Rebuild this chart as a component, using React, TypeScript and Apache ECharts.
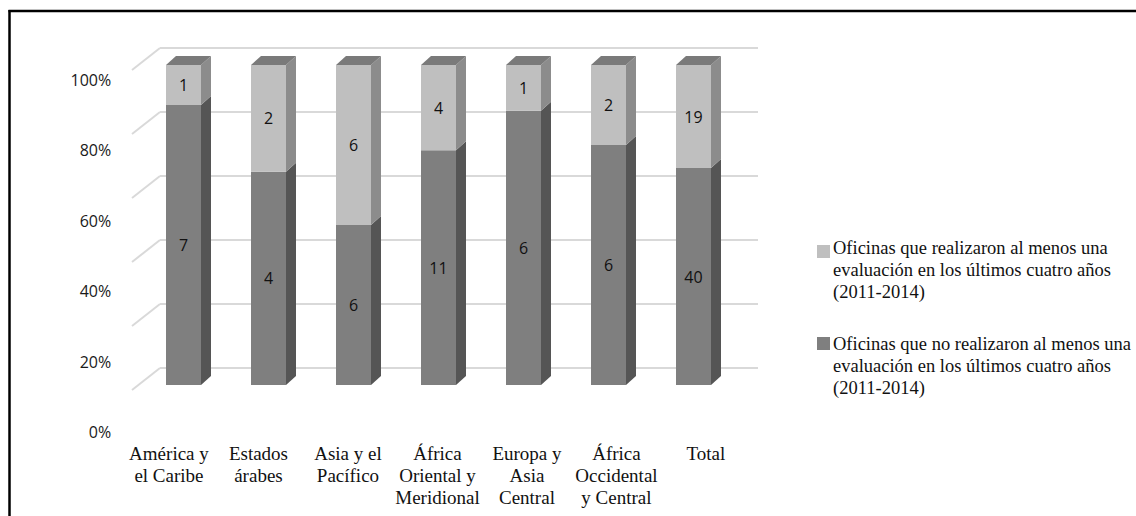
import React, { useEffect, useRef } from "react";
import * as echarts from "echarts";

// Regions and office counts
const categories = [
  "América y\nel Caribe",
  "Estados\nárabes",
  "Asia y el\nPacífico",
  "África\nOriental y\nMeridional",
  "Europa y\nAsia\nCentral",
  "África\nOccidental\ny Central",
  "Total",
];
const realizaron = [1, 2, 6, 4, 1, 2, 19];
const noRealizaron = [7, 4, 6, 11, 6, 6, 40];
const pctTicks = [0, 20, 40, 60, 80, 100];

const legendRealizaron =
  "Oficinas que realizaron al menos una\nevaluación en los últimos cuatro años\n(2011-2014)";
const legendNoRealizaron =
  "Oficinas que no realizaron al menos una\nevaluación en los últimos cuatro años\n(2011-2014)";

// 3D box look
const DX = 10;
const DY = 9;
const BAR_RATIO = 35 / 85;
const LIGHT = { front: "#bfbfbf", side: "#8c8c8c", top: "#7a7a7a" };
const DARK = { front: "#7f7f7f", side: "#555555", top: "#6a6a6a" };
const GRID_LINE = "#d9d9d9";
const SANS = "'Open Sans', 'DejaVu Sans', sans-serif";
const SERIF = "'Liberation Serif', 'DejaVu Serif', serif";

function makeBoxRenderer(colors: { front: string; side: string; top: string }) {
  return (_params: any, api: any) => {
    const cat = api.value(0);
    const lo = api.value(1);
    const hi = api.value(2);
    const count = api.value(3);
    const isTop = api.value(4) === 1;
    const pLo = api.coord([cat, lo]);
    const pHi = api.coord([cat, hi]);
    const cx = pLo[0];
    const yLo = pLo[1];
    const yHi = pHi[1];
    const w = api.size([1, 0])[0] * BAR_RATIO;
    const x0 = cx - w / 2;
    const x1 = cx + w / 2;
    const children: any[] = [
      {
        type: "polygon",
        shape: {
          points: [
            [x1, yHi],
            [x1 + DX, yHi - DY],
            [x1 + DX, yLo - DY],
            [x1, yLo],
          ],
        },
        style: { fill: colors.side },
      },
      {
        type: "rect",
        shape: { x: x0, y: yHi, width: w, height: yLo - yHi },
        style: { fill: colors.front },
      },
    ];
    if (isTop) {
      children.push({
        type: "polygon",
        shape: {
          points: [
            [x0, yHi],
            [x0 + DX, yHi - DY],
            [x1 + DX, yHi - DY],
            [x1, yHi],
          ],
        },
        style: { fill: colors.top },
      });
    }
    children.push({
      type: "text",
      style: {
        text: String(count),
        x: cx,
        y: (yLo + yHi) / 2,
        align: "center",
        verticalAlign: "middle",
        fontFamily: SANS,
        fontSize: 16,
        fill: "#111111",
      },
    });
    return { type: "group", children };
  };
}

export default function App() {
  const ref = useRef<HTMLDivElement>(null);

  useEffect(() => {
    if (!ref.current) return;
    const chart = echarts.init(ref.current, null, { renderer: "svg" });

    const totals = categories.map((_, i) => realizaron[i] + noRealizaron[i]);
    const darkData = categories.map((_, i) => [
      i,
      0,
      (noRealizaron[i] / totals[i]) * 100,
      noRealizaron[i],
      0,
    ]);
    const lightData = categories.map((_, i) => [
      i,
      (noRealizaron[i] / totals[i]) * 100,
      100,
      realizaron[i],
      1,
    ]);

    chart.setOption({
      animation: false,
      backgroundColor: "#ffffff",
      grid: [
        // bars
        { left: 141, right: 400, top: 65, bottom: 131 },
        // back wall
        { left: 160, right: 378, top: 48, bottom: 148 },
        // axis labels
        { left: 124.2, right: 385.3, top: 80, bottom: 84 },
      ],
      xAxis: [
        {
          gridIndex: 0,
          type: "category",
          data: categories,
          show: false,
        },
        { gridIndex: 1, type: "value", min: 0, max: 1, show: false },
        {
          gridIndex: 2,
          type: "category",
          data: categories,
          axisLine: { show: false },
          axisTick: { show: false },
          axisLabel: {
            interval: 0,
            margin: 10,
            fontFamily: SERIF,
            fontSize: 19,
            lineHeight: 22,
            color: "#111111",
          },
        },
      ],
      yAxis: [
        { gridIndex: 0, type: "value", min: 0, max: 100, show: false },
        {
          gridIndex: 1,
          type: "value",
          min: 0,
          max: 100,
          interval: 20,
          axisLine: { show: false },
          axisTick: { show: false },
          axisLabel: { show: false },
          splitLine: { show: true, lineStyle: { color: GRID_LINE, width: 2 } },
        },
        {
          gridIndex: 2,
          type: "value",
          min: 0,
          max: 100,
          interval: 20,
          axisLine: { show: false },
          axisTick: { show: false },
          splitLine: { show: false },
          axisLabel: {
            margin: 13,
            formatter: "{value}%",
            fontFamily: SANS,
            fontSize: 16,
            color: "#1a1a1a",
          },
        },
      ],
      series: [
        {
          // side wall lines running back to the wall
          type: "custom",
          xAxisIndex: 1,
          yAxisIndex: 1,
          silent: true,
          data: pctTicks.map((v) => [0, v]),
          renderItem: (_params: any, api: any) => {
            const p = api.coord([0, api.value(1)]);
            return {
              type: "line",
              shape: { x1: p[0] - 28, y1: p[1] + 22, x2: p[0], y2: p[1] },
              style: { stroke: GRID_LINE, lineWidth: 2 },
            };
          },
        },
        {
          name: legendNoRealizaron,
          type: "custom",
          xAxisIndex: 0,
          yAxisIndex: 0,
          data: darkData,
          encode: { x: 0, y: [1, 2] },
          renderItem: makeBoxRenderer(DARK),
        },
        {
          name: legendRealizaron,
          type: "custom",
          xAxisIndex: 0,
          yAxisIndex: 0,
          data: lightData,
          encode: { x: 0, y: [1, 2] },
          renderItem: makeBoxRenderer(LIGHT),
        },
      ],
      graphic: [
        // frame
        {
          type: "line",
          shape: { x1: 8.5, y1: 11, x2: 1136, y2: 11 },
          style: { stroke: "#000000", lineWidth: 2.5 },
        },
        {
          type: "line",
          shape: { x1: 9.5, y1: 10, x2: 9.5, y2: 516 },
          style: { stroke: "#000000", lineWidth: 2.5 },
        },
        // legend
        {
          type: "rect",
          shape: { x: 817, y: 245, width: 13, height: 13 },
          style: { fill: LIGHT.front },
        },
        {
          type: "text",
          x: 833,
          y: 237,
          style: {
            text: legendRealizaron,
            fontFamily: SERIF,
            fontSize: 18.5,
            lineHeight: 22,
            fill: "#111111",
            verticalAlign: "top",
          },
        },
        {
          type: "rect",
          shape: { x: 817, y: 337, width: 13, height: 13 },
          style: { fill: DARK.front },
        },
        {
          type: "text",
          x: 833,
          y: 333,
          style: {
            text: legendNoRealizaron,
            fontFamily: SERIF,
            fontSize: 18.5,
            lineHeight: 22,
            fill: "#111111",
            verticalAlign: "top",
          },
        },
      ],
    });

    return () => chart.dispose();
  }, []);

  return (
    <div
      ref={ref}
      style={{ position: "fixed", left: 0, top: 0, width: 1136, height: 516 }}
    />
  );
}
